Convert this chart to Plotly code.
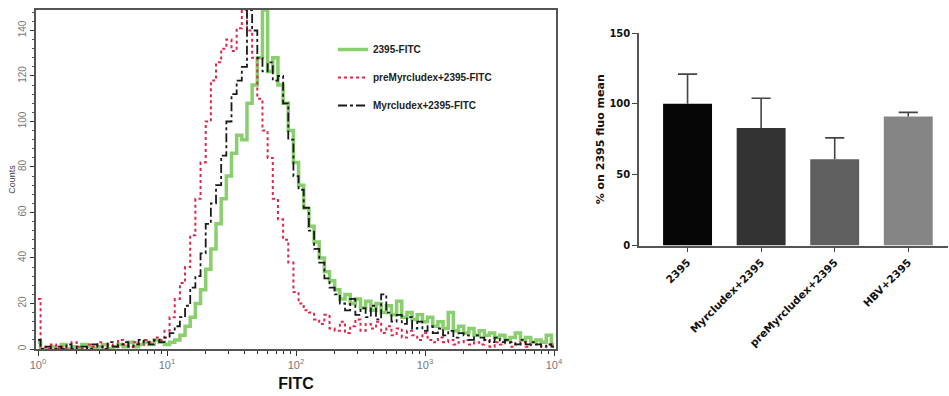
import numpy as np
import plotly.graph_objects as go

# ---------- Left panel: FITC histograms (counts per log-spaced bin, 10^0 .. 10^4) ----------
bin_log_step = 0.04
green_2395 = [3, 0, 0, 1, 0, 2, 0, 1, 0, 2, 1, 0, 1, 2, 0, 1, 2, 1, 3, 1, 2, 3, 2, 4, 3,
              2, 3, 4, 6, 10, 14, 20, 26, 35, 44, 55, 66, 76, 86, 94, 92, 108, 116, 128, 149, 122, 128, 116, 108, 96, 82,
              72, 62, 54, 47, 40, 34, 30, 26, 22, 24, 20, 22, 18, 21, 17, 20, 16, 19, 15, 21, 14, 16, 13, 15, 12,
              14, 10, 12, 9, 16, 8, 10, 7, 9, 6, 8, 6, 7, 5, 6, 4, 5, 7, 4, 5, 3, 4, 3, 6, 2]
red_pre = [22, 1, 0, 2, 0, 1, 0, 3, 1, 0, 2, 1, 3, 0, 2, 1, 4, 2, 1, 3, 2, 4, 3, 5, 4,
           8, 14, 22, 29, 36, 50, 66, 82, 100, 118, 126, 132, 136, 131, 141, 149, 140, 128, 110, 96, 84, 66, 57, 48, 38, 25,
           20, 17, 16, 13, 11, 15, 9, 8, 12, 7, 10, 13, 8, 11, 9, 12, 7, 10, 6, 9, 5, 8, 6, 4, 7,
           4, 3, 5, 3, 4, 2, 3, 4, 2, 3, 2, 4, 1, 3, 2, 3, 1, 2, 3, 1, 2, 2, 1, 2, 1]
black_myr = [4, 0, 1, 0, 1, 0, 2, 0, 1, 1, 0, 2, 1, 0, 3, 1, 2, 3, 1, 2, 4, 3, 2, 4, 3,
             5, 7, 10, 14, 19, 27, 32, 42, 55, 64, 72, 85, 100, 112, 118, 124, 149, 140, 128, 122, 126, 118, 120, 108, 92, 76,
             70, 62, 52, 44, 38, 31, 27, 24, 20, 17, 22, 15, 18, 14, 19, 13, 24, 16, 12, 15, 11, 14, 9, 12, 8,
             10, 7, 9, 6, 8, 5, 7, 6, 4, 6, 5, 4, 3, 5, 3, 4, 3, 2, 4, 2, 3, 2, 1, 2, 1]
hist_names = ["2395-FITC", "preMyrcludex+2395-FITC", "Myrcludex+2395-FITC"]
log_ticks = [1, 10, 100, 1000, 10000]
log_tick_text = ["10<sup>0</sup>", "10<sup>1</sup>", "10<sup>2</sup>", "10<sup>3</sup>", "10<sup>4</sup>"]

# ---------- Right panel: bar chart ----------
bar_cats = ["2395", "Myrcludex+2395", "preMyrcludex+2395", "HBV+2395"]
bar_vals = [100, 83, 61, 91]
bar_errs = [21, 21, 15, 3]
bar_colors = ["#050505", "#333333", "#5f5f5f", "#858585"]

x_bins = 10 ** (np.arange(len(green_2395)) * bin_log_step)
bar_pos = list(range(len(bar_cats)))

W, H = 949, 396
def fx(px):
    return px / W
def fy(py):
    return 1 - py / H

fig = go.Figure()
fig.add_trace(go.Scatter(x=x_bins, y=green_2395, name=hist_names[0], mode="lines",
                         line=dict(color="#6cc44a", width=3.5, shape="hvh"), opacity=0.8,
                         xaxis="x", yaxis="y", legendgroup="g"))
fig.add_trace(go.Scatter(x=x_bins, y=red_pre, name=hist_names[1], mode="lines",
                         line=dict(color="#e0264a", width=2, dash="dot", shape="hvh"),
                         xaxis="x", yaxis="y", legendgroup="r"))
fig.add_trace(go.Scatter(x=x_bins, y=black_myr, name=hist_names[2], mode="lines",
                         line=dict(color="#1a1a1a", width=1.8, dash="dashdot", shape="hvh"),
                         xaxis="x", yaxis="y", legendgroup="b"))

# error bars (upper only, GraphPad style) drawn as lines from the data
cap_half = 0.13
ex, ey = [], []
for p, v, e in zip(bar_pos, bar_vals, bar_errs):
    ex += [p, p, None, p - cap_half, p + cap_half, None]
    ey += [v, v + e, None, v + e, v + e, None]
fig.add_trace(go.Scatter(x=ex, y=ey, mode="lines", line=dict(color="#444444", width=1.6),
                         showlegend=False, hoverinfo="skip", xaxis="x2", yaxis="y2"))
fig.add_trace(go.Bar(x=bar_pos, y=bar_vals, marker=dict(color=bar_colors, line=dict(width=0)),
                     width=0.665, showlegend=False, xaxis="x2", yaxis="y2"))

minor_vals = []
for d in [1, 10, 100, 1000]:
    for m in range(2, 10):
        minor_vals.append(d * m)

fig.update_layout(
    width=W, height=H,
    margin=dict(l=0, r=0, t=0, b=0),
    plot_bgcolor="white", paper_bgcolor="white",
    font=dict(family="Liberation Sans", color="#333333"),
    xaxis=dict(domain=[fx(36), fx(556)], type="log", range=[-0.0155, 4.0155], automargin=False,
               tickmode="array", tickvals=log_ticks, ticktext=log_tick_text,
               tickfont=dict(size=11, color="#777777"),
               showline=True, linecolor="#555555", linewidth=1.5, mirror=True,
               ticks="outside", ticklen=5, tickcolor="#333333", showgrid=False, zeroline=False,
               minor=dict(tickmode="array", tickvals=minor_vals, ticks="outside", ticklen=3,
                          tickcolor="#333333", showgrid=False),
               title=dict(text="FITC", font=dict(size=16, color="#111111", family="Liberation Sans", weight="bold"),
                          standoff=8),
               anchor="y"),
    yaxis=dict(domain=[fy(349), fy(10)], range=[0, 149], automargin=False,
               tickvals=[0, 20, 40, 60, 80, 100, 120, 140], tickangle=-90,
               tickfont=dict(size=10, color="#777777"),
               showline=True, linecolor="#555555", linewidth=1.5, mirror=True,
               ticks="outside", ticklen=4, tickcolor="#333333", showgrid=False, zeroline=False,
               minor=dict(dtick=4, ticks="outside", ticklen=2, tickcolor="#555555", showgrid=False),
               title=dict(text="Counts", font=dict(size=9, color="#444444"), standoff=0),
               anchor="x"),
    xaxis2=dict(domain=[fx(639), fx(948)], range=[-0.66, 3.54], automargin=False,
                tickmode="array", tickvals=bar_pos, ticktext=bar_cats,
                tickangle=-45, tickfont=dict(size=10.5, color="#111111", family="DejaVu Sans", weight="bold"),
                showline=True, linecolor="#555555", linewidth=1.5,
                ticks="outside", ticklen=5, tickcolor="#444444", showgrid=False, zeroline=False,
                anchor="y2"),
    yaxis2=dict(domain=[fy(245.6), fy(33)], range=[0, 150], automargin=False,
                tickvals=[0, 50, 100, 150],
                tickfont=dict(size=10, color="#111111", family="DejaVu Sans", weight="bold"),
                showline=True, linecolor="#555555", linewidth=1.5,
                ticks="outside", ticklen=5, tickcolor="#444444", showgrid=False, zeroline=False,
                title=dict(text="% on 2395 fluo mean",
                           font=dict(size=11, color="#111111", family="DejaVu Sans", weight="bold"),
                           standoff=3),
                anchor="x2"),
    legend=dict(x=fx(333), y=fy(35), xanchor="left", yanchor="top",
                bgcolor="rgba(255,255,255,0)", tracegroupgap=9,
                font=dict(size=10, color="#222222", family="Liberation Sans", weight="bold"),
                itemwidth=30),
)

fig.write_html("out.html", config={"displayModeBar": False},
               post_script="document.body.style.margin='0';document.body.style.padding='0';")
